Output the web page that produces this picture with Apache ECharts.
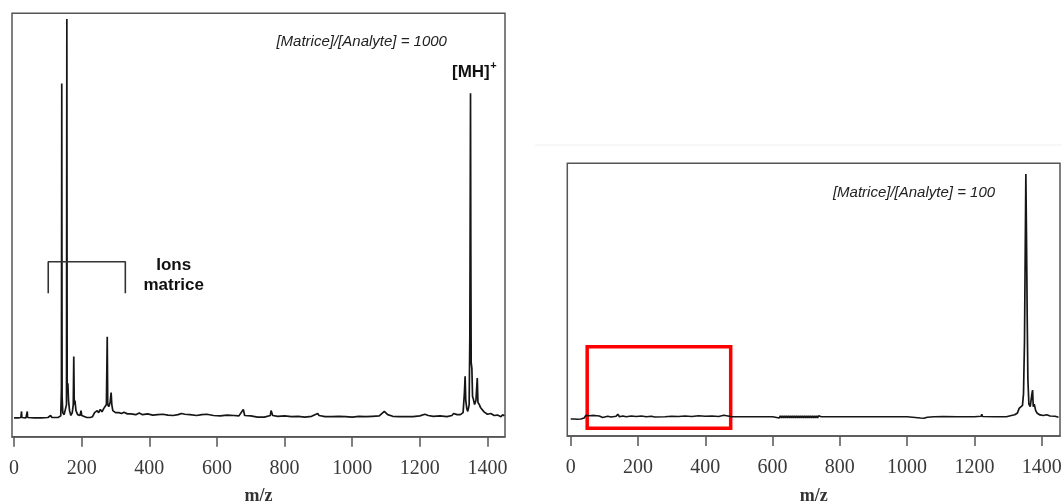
<!DOCTYPE html>
<html>
<head>
<meta charset="utf-8">
<script src="https://cdn.jsdelivr.net/npm/echarts@6/dist/echarts.min.js"></script>
<style>
html,body{margin:0;padding:0;background:#fff;}
#c{width:1062px;height:504px;}
</style>
</head>
<body>
<div id="c"></div>
<script>
// ---- data ----
var xTicks = [0, 200, 400, 600, 800, 1000, 1200, 1400];

// Left spectrum: [Matrice]/[Analyte] = 1000
var mzA = [0,5,12,20,22,23,35,39,40,60,80,100,108,112,130,138,140,141,142,144,148,152,155,156,157,159,161,164,168,172,175,176.5,178,180,183,188,195,198,200,205,215,225,232,238,242,246,250,255,260,265,270,273,275.5,277,280,284,287,289,292,296,300,305,310,318,325,335,345,360,370,380,395,410,425,440,455,470,485,495,500,505,520,540,555,570,590,610,630,650,665,678,682,700,720,740,758,760,765,780,800,820,840,860,880,898,902,920,940,960,980,1000,1020,1040,1060,1080,1095,1100,1105,1120,1140,1160,1180,1200,1215,1225,1240,1260,1280,1295,1300,1310,1320,1328,1332,1334,1336,1339,1342,1346,1348,1350,1351,1352,1354,1356,1358,1362,1366,1370,1372,1376,1380,1385,1390,1395,1400,1410,1420,1430,1440,1445,1450];
var intA = [-0.3,-0.2,-0.3,-0.2,1.3,-0.2,-0.3,1.3,-0.2,-0.3,-0.3,-0.2,0.3,-0.2,-0.2,0.2,7,82.6,5,1,0.5,0.8,3,98.6,6,8.3,4,1.5,0.3,1,3,14.9,3,4,1.5,0.5,0.3,1.5,0.3,0.2,-0.2,-0.2,0,1,0.6,1.5,1,1.8,1.2,2,2.2,3,19.8,3,2.5,3.5,6,3,1.5,1.8,1,1.2,1,0.8,1.1,0.7,0.7,0.5,0.9,0.5,0.7,0.4,0.5,0.6,0.4,0.3,0.5,0.8,1.2,0.6,0.5,0.3,0.5,0.6,0.3,0.2,0.4,0.3,0.2,1.8,0.3,0.2,-0.1,-0.1,0.3,1.5,0.3,0.1,0.2,0,0.1,-0.1,0.1,0.8,0.3,0,0,0.1,0,-0.1,0.1,0,0.1,0.2,1.3,1.5,0.5,0.1,0,0,0,0.2,0.6,0.3,0.1,0.2,0,0.3,0.8,0.5,0.5,1,6,10,4,2,1.3,3,20,80.2,40,13.4,12,5,4.5,3,4,9.6,3.5,3,2.2,1.8,1.2,1,0.6,0.8,0.3,0.4,0,0.5,0.2];

// Right spectrum: [Matrice]/[Analyte] = 100
var mzB = [0,10,20,30,35,40,45,50,55,60,70,75,85,95,100,110,120,135,140,145,155,165,180,195,210,225,240,250,280,300,320,340,360,380,400,420,440,455,460,480,520,560,600,620,623,626,629,632,635,638,641,644,647,650,653,656,659,662,665,668,671,674,677,680,683,686,689,692,695,698,701,704,707,710,713,716,719,722,725,728,731,734,737,740,745,800,900,1000,1040,1050,1060,1080,1108,1110,1112,1150,1200,1220,1222,1224,1260,1295,1300,1310,1320,1328,1333,1338,1343,1346,1349,1353,1355,1357,1359,1362,1366,1368,1371,1373,1375,1378,1382,1386,1395,1405,1415,1425,1440,1450];
var intB = [-0.9,-0.9,-1,-0.9,-0.3,-0.5,0.5,-0.2,0.4,-0.3,0.5,-0.2,0.3,-0.3,0.4,0.2,-0.1,0.2,1,0,0.3,0,0.3,0.1,0.3,0,0.2,-0.1,0,0.2,0.1,0.3,0.1,0.4,0.2,0.3,0.1,0.6,0.1,0,0,0,0,-0.5,0.4,-0.5,0.4,-0.5,0.4,-0.5,0.4,-0.5,0.4,-0.5,0.4,-0.5,0.4,-0.5,0.4,-0.5,0.4,-0.5,0.4,-0.5,0.4,-0.5,0.4,-0.5,0.4,-0.5,0.4,-0.5,0.4,-0.5,0.4,-0.5,0.4,-0.5,0.4,-0.5,0.4,-0.5,0.4,-0.2,0,0,0,0,-0.5,-0.6,-0.2,0,0.1,0.8,0.1,0,0,0.2,1,0.1,0,0,0.7,0.5,0.8,1.5,3.3,3.5,4.5,9,30,95.8,70,39.5,15,5,4,6,9,10.5,4,5,2.5,1.5,0.7,0.5,0.8,0.3,0.2,-0.2];

// Bracket "Ions matrice" (left panel, data coords)
var bracketMz = [101, 101, 329, 329];
var bracketInt = [30.6, 38.4, 38.4, 30.6];

// Highlight box (right panel, data coords)
var boxMz = [49, 475.6];
var boxInt = [-4.5, 27.6];

function pairs(xs, ys){ return xs.map(function(x,i){ return [x, ys[i]]; }); }

var chart = echarts.init(document.getElementById('c'), null, {renderer:'canvas'});

var axisCommon = function(min, max, gridIndex){
  return {
    type:'value', gridIndex:gridIndex, min:min, max:max,
    name:'m/z', nameLocation:'middle', nameGap:51, nameMoveOverlap:false,
    nameTextStyle:{fontFamily:'Liberation Serif', fontWeight:'bold', fontSize:18, color:'#333'},
    axisLine:{show:true, onZero:false, lineStyle:{color:'#555', width:1.5}},
    axisTick:{show:true, inside:false, customValues:xTicks, length:10, lineStyle:{color:'#555', width:1.5}},
    axisLabel:{show:true, customValues:xTicks, margin:22, fontFamily:'Liberation Serif', fontSize:20, color:'#3a3a3a',
      formatter:function(v){ return String(v); }},
    splitLine:{show:false}
  };
};

var option = {
  animation:false,
  backgroundColor:'#fff',
  grid:[
    {left:12, right:557, top:13.3, bottom:67.3, show:true, borderColor:'#555', borderWidth:1.5, outerBoundsMode:'none', containLabel:false},
    {left:567.3, right:2, top:163.3, bottom:68, show:true, borderColor:'#555', borderWidth:1.5, outerBoundsMode:'none', containLabel:false}
  ],
  xAxis:[ axisCommon(-6.2, 1452, 0), axisCommon(-10.1, 1454.5, 1) ],
  yAxis:[
    {type:'value', gridIndex:0, min:-4.96, max:100, show:false},
    {type:'value', gridIndex:1, min:-7.6, max:100, show:false}
  ],
  series:[
    {type:'line', xAxisIndex:0, yAxisIndex:0, data:pairs(mzA, intA), showSymbol:false, symbol:'none',
     lineStyle:{color:'#161616', width:1.7}, clip:true},
    {type:'line', xAxisIndex:0, yAxisIndex:0, data:pairs(bracketMz, bracketInt), showSymbol:false, symbol:'none',
     lineStyle:{color:'#333', width:1.6}},
    {type:'line', xAxisIndex:1, yAxisIndex:1, data:pairs(mzB, intB), showSymbol:false, symbol:'none',
     lineStyle:{color:'#161616', width:1.7}, clip:true,
     markArea:{silent:true,
       itemStyle:{color:'rgba(0,0,0,0)', borderColor:'#ff0000', borderWidth:3.5},
       data:[[{coord:[boxMz[0], boxInt[1]]},{coord:[boxMz[1], boxInt[0]]}]]}
    }
  ],
  graphic:[
    {type:'line', shape:{x1:535, y1:145, x2:1062, y2:145}, style:{stroke:'#f0f0f0', lineWidth:1}, silent:true},
    {type:'text', x:361.7, y:42.3, style:{text:'[Matrice]/[Analyte] = 1000', align:'center', verticalAlign:'middle',
      font:'italic 15px "Liberation Sans", Arial, sans-serif', fill:'#222'}},
    {type:'text', x:470.9, y:72.7, style:{text:'[MH]', align:'center', verticalAlign:'middle',
      font:'bold 17px "Liberation Sans", Arial, sans-serif', fill:'#111'}},
    {type:'text', x:493.5, y:66, style:{text:'+', align:'center', verticalAlign:'middle',
      font:'bold 11px "Liberation Sans", Arial, sans-serif', fill:'#111'}},
    {type:'text', x:173.7, y:275.3, style:{text:'Ions\nmatrice', align:'center', verticalAlign:'middle', lineHeight:20.7,
      font:'bold 17px "Liberation Sans", Arial, sans-serif', fill:'#111'}},
    {type:'text', x:914, y:193.3, style:{text:'[Matrice]/[Analyte] = 100', align:'center', verticalAlign:'middle',
      font:'italic 15px "Liberation Sans", Arial, sans-serif', fill:'#222'}}
  ]
};
chart.setOption(option);
</script>
</body>
</html>
